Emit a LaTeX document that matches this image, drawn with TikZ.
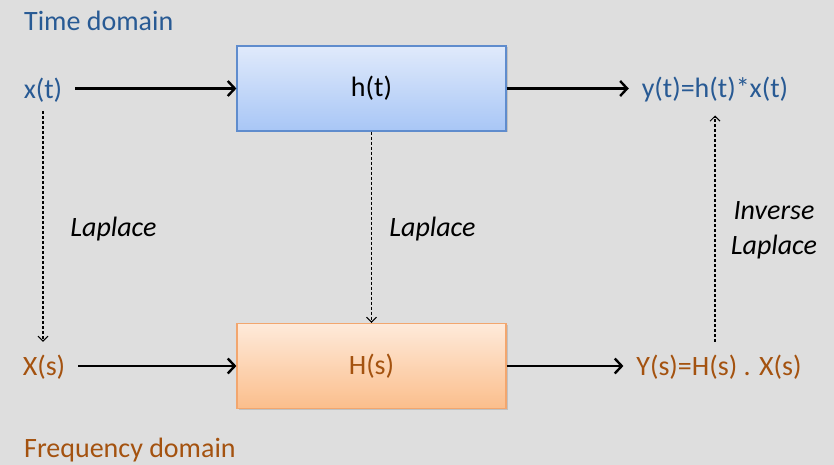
\documentclass[tikz,border=0pt]{standalone}
\usepackage{fontspec}
\setmainfont{Carlito}
\usetikzlibrary{shadows,arrows.meta}
\definecolor{timeblue}{HTML}{285A94}
\definecolor{freqbrown}{HTML}{A4520F}
\definecolor{bggray}{HTML}{DEDEDE}

\begin{document}
\begin{tikzpicture}[x=1pt,y=-1pt,
    every node/.style={font=\fontsize{28}{34}\selectfont},
    lbl/.style={inner sep=0pt,outer sep=13pt},
    sysbox/.style={minimum width=269pt,minimum height=85pt,line width=1.2pt,
        drop shadow={opacity=0.3,shadow xshift=1.5pt,shadow yshift=-1.5pt}},
    sig/.style={line width=2.8pt,-{Straight Barb[length=7pt,width=15pt,line width=2.4pt]}},
    xform/.style={dash pattern=on 3pt off 2pt,line width=1.1pt,-{Straight Barb[length=5pt,width=10pt,line width=1pt]}}]
\fill[bggray] (0,0) rectangle (834,465);

% titles
\node[anchor=west,inner sep=0pt,timeblue] (tdom) at (24,21) {Time domain};
\node[anchor=west,inner sep=0pt,freqbrown] (fdom) at (24,450) {Frequency domain};

% time domain row
\node[lbl,timeblue] (xt) at (43,90) {x(t)};
\node[sysbox,draw={rgb,255:red,95;green,140;blue,205},top color={rgb,255:red,224;green,234;blue,251},
    bottom color={rgb,255:red,168;green,198;blue,246}] (ht) at (371.5,88.5) {h(t)};
\node[lbl,timeblue] (yt) at (715,90) {y(t)=h(t)*x(t)};

% frequency domain row
\node[lbl,freqbrown] (Xs) at (44,367) {X(s)};
\node[sysbox,draw={rgb,255:red,242;green,166;blue,110},top color={rgb,255:red,254;green,234;blue,218},
    bottom color={rgb,255:red,251;green,190;blue,140},text=freqbrown] (Hs) at (371.5,366) {H(s)};
\node[lbl,freqbrown] (Ys) at (719,367) {Y(s)=H(s) . X(s)};

\draw[sig] (xt.east |- ht) -- (ht.west);
\draw[sig] (ht.east) -- (ht.east -| yt.west);
\draw[sig] (Xs.east |- Hs) -- (Hs.west);
\draw[sig] (Hs.east) -- (Hs.east -| Ys.west);

% Laplace
\draw[xform] (xt.south) ++(0,-4) coordinate (c) -- (c |- Xs.north);
\draw[xform] (ht.south) -- (Hs.north);
\draw[xform] (Ys.north -| yt) -- (yt.south);
\node[font=\fontsize{28}{34}\selectfont\itshape] (lap1) at (113.5,229) {Laplace};
\node[font=\fontsize{28}{34}\selectfont\itshape] (lap2) at (432.5,229) {Laplace};
\node[font=\fontsize{28}{35}\selectfont\itshape,align=center] (ilap) at (774,230) {Inverse\\Laplace};
\end{tikzpicture}
\end{document}
